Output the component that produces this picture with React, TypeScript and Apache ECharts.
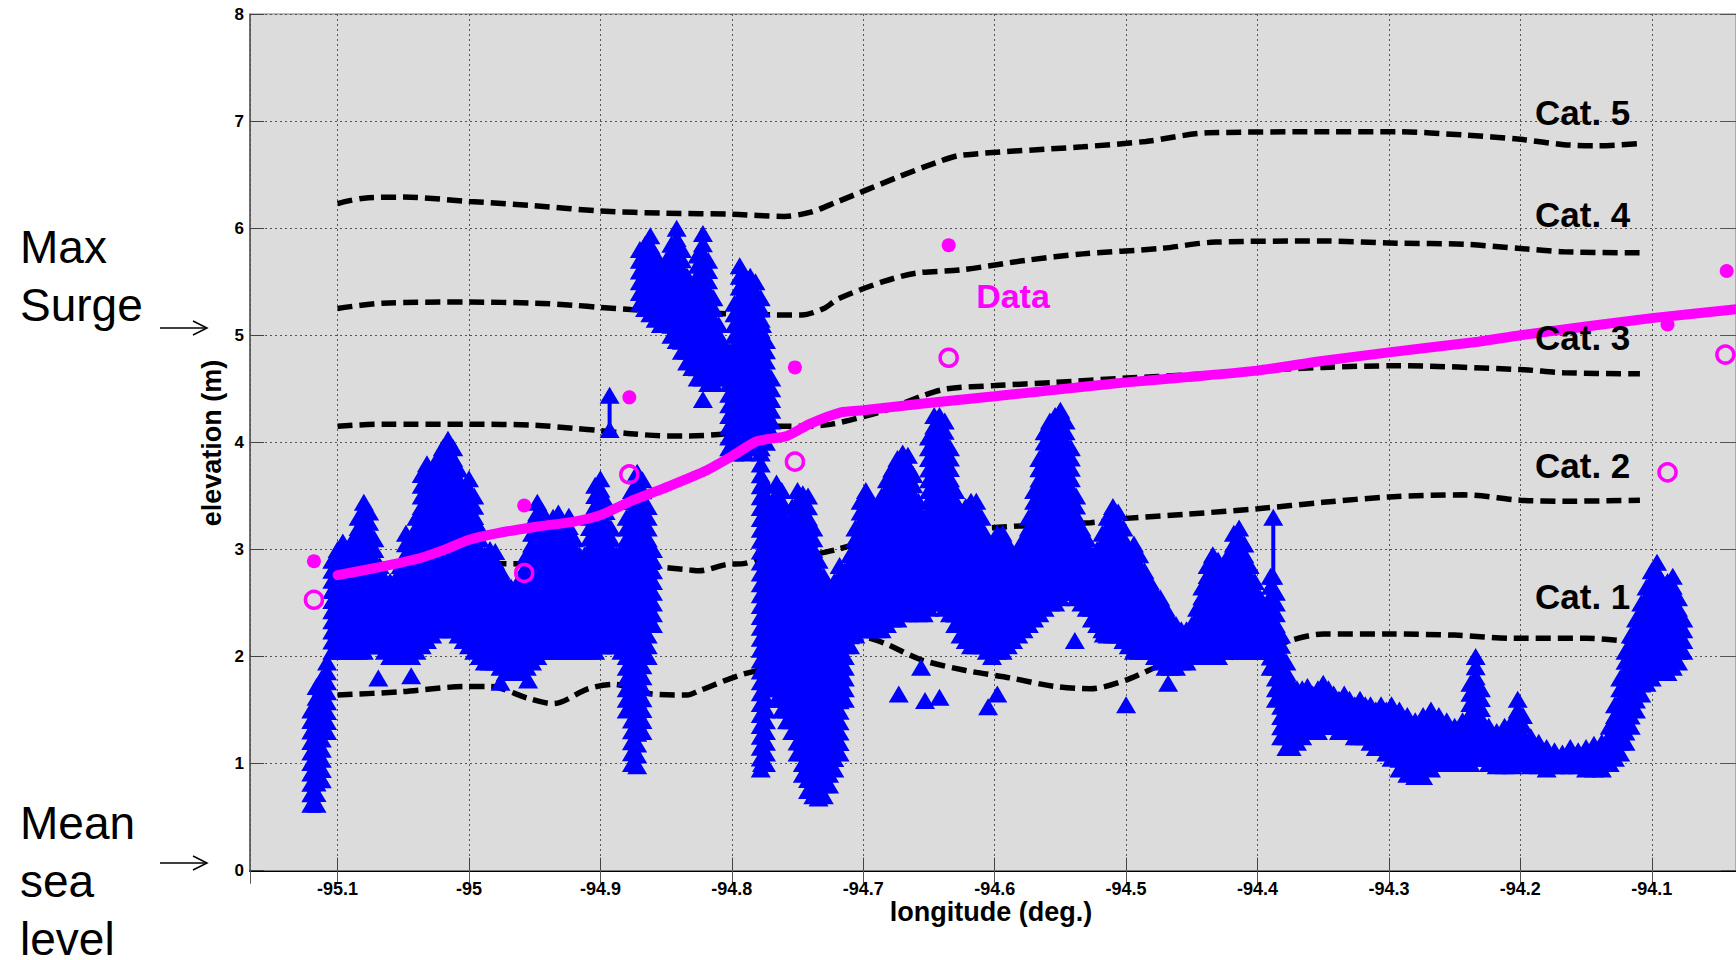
import React, { useEffect, useRef } from "react";
import * as echarts from "echarts";

// ---------------- data ----------------
const cat5: [number, number][] = [
  [-95.1, 6.23], [-95.08, 6.28], [-95.05, 6.29], [-95.0, 6.25], [-94.95, 6.21], [-94.9, 6.16],
  [-94.85, 6.14], [-94.8, 6.13], [-94.76, 6.11], [-94.74, 6.15], [-94.721, 6.24], [-94.673, 6.48],
  [-94.645, 6.61], [-94.626, 6.68], [-94.533, 6.76], [-94.485, 6.81], [-94.438, 6.89], [-94.345, 6.9],
  [-94.294, 6.9], [-94.243, 6.87], [-94.2, 6.83], [-94.167, 6.78], [-94.141, 6.77], [-94.109, 6.79],
];
const cat4: [number, number][] = [
  [-95.1, 5.25], [-95.066, 5.3], [-95.0, 5.31], [-94.95, 5.3], [-94.92, 5.28], [-94.9, 5.26],
  [-94.877, 5.24], [-94.862, 5.23], [-94.764, 5.19], [-94.747, 5.19], [-94.73, 5.25], [-94.719, 5.34],
  [-94.685, 5.5], [-94.66, 5.58], [-94.626, 5.61], [-94.576, 5.7], [-94.533, 5.76], [-94.474, 5.81],
  [-94.432, 5.87], [-94.348, 5.88], [-94.294, 5.86], [-94.243, 5.85], [-94.2, 5.81], [-94.167, 5.78],
  [-94.109, 5.77],
];
const cat3: [number, number][] = [
  [-95.1, 4.15], [-95.066, 4.17], [-95.0, 4.17], [-94.95, 4.16], [-94.92, 4.13], [-94.9, 4.11],
  [-94.877, 4.08], [-94.848, 4.06], [-94.833, 4.06], [-94.804, 4.08], [-94.764, 4.15], [-94.747, 4.15],
  [-94.724, 4.17], [-94.683, 4.3], [-94.656, 4.43], [-94.636, 4.5], [-94.6, 4.53], [-94.554, 4.56],
  [-94.5, 4.6], [-94.453, 4.63], [-94.4, 4.67], [-94.35, 4.7], [-94.294, 4.715], [-94.2, 4.68],
  [-94.167, 4.65], [-94.109, 4.64],
];
const cat2: [number, number][] = [
  [-95.1, 2.85], [-95.0, 2.87], [-94.9, 2.85], [-94.862, 2.84], [-94.833, 2.81], [-94.825, 2.8],
  [-94.804, 2.86], [-94.79, 2.87], [-94.774, 2.93], [-94.74, 2.95], [-94.72, 3.0], [-94.656, 3.2],
  [-94.608, 3.2], [-94.58, 3.22], [-94.527, 3.25], [-94.5, 3.29], [-94.453, 3.33], [-94.4, 3.38],
  [-94.35, 3.44], [-94.3, 3.49], [-94.243, 3.51], [-94.2, 3.46], [-94.167, 3.45], [-94.109, 3.46],
];
const cat1: [number, number][] = [
  [-95.1, 1.64], [-95.053, 1.67], [-95.002, 1.72], [-94.984, 1.72], [-94.955, 1.61], [-94.936, 1.56],
  [-94.909, 1.7], [-94.89, 1.74], [-94.861, 1.65], [-94.834, 1.64], [-94.825, 1.68], [-94.79, 1.84],
  [-94.74, 1.97], [-94.714, 2.09], [-94.7, 2.18], [-94.683, 2.12], [-94.656, 1.97], [-94.622, 1.87],
  [-94.588, 1.8], [-94.554, 1.72], [-94.527, 1.7], [-94.5, 1.78], [-94.47, 1.93], [-94.436, 1.97],
  [-94.4, 2.03], [-94.375, 2.15], [-94.35, 2.21], [-94.3, 2.21], [-94.25, 2.2], [-94.205, 2.17],
  [-94.15, 2.17], [-94.11, 2.13],
];

const surgeModel: [number, number][] = [
  [-95.1, 2.76], [-95.066, 2.84], [-95.037, 2.92], [-95.018, 3.0], [-95.0, 3.09], [-94.979, 3.15],
  [-94.95, 3.21], [-94.92, 3.26], [-94.9, 3.32], [-94.877, 3.45], [-94.848, 3.59], [-94.819, 3.74],
  [-94.8, 3.87], [-94.781, 4.01], [-94.758, 4.06], [-94.741, 4.17], [-94.717, 4.28], [-94.7, 4.3],
  [-94.656, 4.36], [-94.6, 4.43], [-94.554, 4.49], [-94.5, 4.56], [-94.453, 4.61], [-94.4, 4.67],
  [-94.351, 4.76], [-94.3, 4.84], [-94.232, 4.94], [-94.2, 5.0], [-94.1, 5.16], [-94.03, 5.25],
];

const dataFilled: [number, number][] = [
  [-95.118, 2.89], [-94.958, 3.41], [-94.878, 4.42], [-94.752, 4.7], [-94.635, 5.84], [-94.088, 5.1], [-94.043, 5.6],
];
const dataOpen: [number, number][] = [
  [-95.118, 2.53], [-94.958, 2.78], [-94.878, 3.7], [-94.752, 3.82], [-94.635, 4.79], [-94.088, 3.72], [-94.044, 4.82],
];

// ground elevation columns: [longitude, lowest triangle, highest triangle]
const groundCols: [number, number, number][] = [
  [-95.12, 0.62, 1.5], [-95.116, 0.62, 1.72], [-95.112, 0.85, 1.8], [-95.108, 1.3, 1.95],
  [-95.104, 2.05, 2.9], [-95.1, 2.05, 3.0], [-95.096, 2.05, 3.07], [-95.092, 2.05, 2.95],
  [-95.088, 2.05, 3.1], [-95.084, 2.05, 3.3], [-95.08, 2.05, 3.44], [-95.076, 2.1, 3.35],
  [-95.072, 2.1, 3.1], [-95.068, 2.1, 2.85], [-95.064, 2.05, 2.72], [-95.06, 2.0, 2.7],
  [-95.056, 2.0, 2.72], [-95.052, 2.0, 2.85], [-95.048, 2.0, 3.15], [-95.044, 2.0, 2.95],
  [-95.04, 2.05, 3.3], [-95.036, 2.1, 3.7], [-95.032, 2.15, 3.8], [-95.028, 2.2, 3.7],
  [-95.024, 2.25, 3.85], [-95.02, 2.25, 3.95], [-95.016, 2.25, 4.03], [-95.012, 2.25, 3.95],
  [-95.008, 2.2, 3.75], [-95.004, 2.15, 3.55], [-95.0, 2.1, 3.66], [-94.996, 2.05, 3.5],
  [-94.992, 2.0, 3.2], [-94.988, 1.95, 2.95], [-94.984, 1.95, 3.0], [-94.98, 1.95, 2.98],
  [-94.976, 1.9, 2.8], [-94.972, 1.85, 2.7], [-94.968, 1.85, 2.65], [-94.964, 1.85, 2.65],
  [-94.96, 1.85, 2.75], [-94.956, 1.9, 2.95], [-94.952, 1.95, 3.25], [-94.948, 2.0, 3.44],
  [-94.944, 2.05, 3.35], [-94.94, 2.05, 3.2], [-94.936, 2.05, 3.3], [-94.932, 2.05, 3.34],
  [-94.928, 2.05, 3.25], [-94.924, 2.05, 3.31], [-94.92, 2.05, 3.1], [-94.916, 2.05, 2.95],
  [-94.912, 2.05, 2.95], [-94.908, 2.05, 3.3], [-94.904, 2.05, 3.6], [-94.9, 2.1, 3.66],
  [-94.896, 2.1, 3.45], [-94.892, 2.1, 3.2], [-94.888, 2.1, 2.95], [-94.884, 2.05, 3.0],
  [-94.88, 1.5, 3.3], [-94.876, 1.0, 3.55], [-94.872, 0.98, 3.72], [-94.868, 1.3, 3.65],
  [-94.864, 2.0, 3.4], [-94.86, 2.3, 3.0],
  // high cluster
  [-94.87, 5.3, 5.8], [-94.866, 5.25, 5.85], [-94.862, 5.2, 5.93], [-94.858, 5.15, 5.75],
  [-94.854, 5.1, 5.5], [-94.85, 5.1, 5.7], [-94.846, 5.0, 5.85], [-94.842, 4.95, 6.0],
  [-94.838, 4.85, 5.8], [-94.834, 4.75, 5.55], [-94.83, 4.7, 5.45], [-94.826, 4.6, 5.75],
  [-94.822, 4.6, 5.95], [-94.818, 4.55, 5.7], [-94.814, 4.55, 5.35], [-94.81, 4.6, 5.1],
  [-94.806, 4.6, 4.9], [-94.802, 3.95, 4.85], [-94.798, 3.9, 5.3], [-94.794, 3.95, 5.65],
  [-94.79, 3.9, 5.55], [-94.786, 3.95, 5.55], [-94.782, 3.95, 5.5], [-94.778, 3.95, 5.35],
  [-94.774, 4.0, 4.95], [-94.77, 4.1, 4.6],
  // middle
  [-94.778, 0.95, 3.9], [-94.774, 1.0, 3.6],
  [-94.77, 1.7, 3.4], [-94.766, 1.6, 3.62], [-94.762, 1.5, 3.55], [-94.758, 1.4, 3.2],
  [-94.754, 1.3, 3.4], [-94.75, 1.1, 3.55], [-94.746, 0.9, 3.52], [-94.742, 0.75, 3.5],
  [-94.738, 0.7, 3.2], [-94.734, 0.68, 2.9], [-94.73, 0.7, 2.75], [-94.726, 0.8, 2.6],
  [-94.722, 0.95, 2.7], [-94.718, 1.1, 2.85], [-94.714, 1.6, 2.8], [-94.71, 2.1, 2.95],
  [-94.706, 2.2, 3.2], [-94.702, 2.25, 3.45], [-94.698, 2.25, 3.55], [-94.694, 2.25, 3.45],
  [-94.69, 2.25, 3.3], [-94.686, 2.25, 3.5], [-94.682, 2.3, 3.65], [-94.678, 2.35, 3.75],
  [-94.674, 2.35, 3.85], [-94.67, 2.4, 3.9], [-94.666, 2.4, 3.88], [-94.662, 2.45, 3.7],
  [-94.658, 2.4, 3.45], [-94.654, 2.4, 3.3], [-94.65, 2.45, 4.05], [-94.646, 2.5, 4.25],
  [-94.642, 2.5, 4.25], [-94.638, 2.45, 4.2], [-94.634, 2.4, 3.95], [-94.63, 2.3, 3.55],
  [-94.626, 2.2, 3.3], [-94.622, 2.15, 3.4], [-94.618, 2.1, 3.45], [-94.614, 2.1, 3.45],
  [-94.61, 2.1, 3.3], [-94.606, 2.05, 3.1], [-94.602, 2.0, 3.0], [-94.598, 2.05, 3.15],
  [-94.594, 2.05, 3.15], [-94.59, 2.1, 3.05], [-94.586, 2.15, 2.95], [-94.582, 2.2, 3.0],
  [-94.578, 2.25, 3.1], [-94.574, 2.3, 3.3], [-94.57, 2.35, 3.55], [-94.566, 2.4, 3.85],
  [-94.562, 2.45, 4.1], [-94.558, 2.5, 4.2], [-94.554, 2.5, 4.25], [-94.55, 2.55, 4.3],
  [-94.546, 2.6, 4.2], [-94.542, 2.6, 3.95], [-94.538, 2.55, 3.5], [-94.534, 2.5, 3.2],
  [-94.53, 2.45, 3.1], [-94.526, 2.35, 2.95], [-94.522, 2.3, 3.0], [-94.518, 2.25, 3.15],
  [-94.514, 2.2, 3.3], [-94.51, 2.2, 3.4], [-94.506, 2.2, 3.35], [-94.502, 2.15, 3.2],
  [-94.498, 2.1, 3.0], [-94.494, 2.05, 3.05], [-94.49, 2.05, 2.95], [-94.486, 2.05, 2.8],
  [-94.482, 2.05, 2.7], [-94.478, 2.0, 2.6], [-94.474, 1.95, 2.55], [-94.47, 1.9, 2.45],
  [-94.466, 1.9, 2.35], [-94.462, 1.9, 2.3], [-94.458, 1.95, 2.25], [-94.454, 1.95, 2.25],
  [-94.45, 2.0, 2.3], [-94.446, 2.0, 2.45], [-94.442, 2.0, 2.65], [-94.438, 2.0, 2.85],
  [-94.434, 2.0, 2.95], [-94.43, 2.0, 2.9], [-94.426, 2.05, 2.8], [-94.422, 2.05, 2.95],
  [-94.418, 2.05, 3.15], [-94.414, 2.05, 3.2], [-94.41, 2.05, 3.05], [-94.406, 2.05, 2.85],
  [-94.402, 2.05, 2.7], [-94.398, 2.05, 2.55], [-94.394, 2.05, 2.45], [-94.39, 1.9, 2.75],
  [-94.386, 1.6, 2.6], [-94.382, 1.25, 2.2], [-94.378, 1.15, 1.95], [-94.374, 1.15, 1.75],
  [-94.37, 1.2, 1.7], [-94.366, 1.25, 1.7], [-94.362, 1.3, 1.72], [-94.358, 1.3, 1.65],
  [-94.354, 1.3, 1.7], [-94.35, 1.35, 1.75], [-94.346, 1.35, 1.7], [-94.342, 1.35, 1.65],
  [-94.338, 1.3, 1.6], [-94.334, 1.3, 1.65], [-94.33, 1.3, 1.6], [-94.326, 1.25, 1.55],
  [-94.322, 1.25, 1.6], [-94.318, 1.25, 1.55], [-94.314, 1.2, 1.55], [-94.31, 1.15, 1.5],
  [-94.306, 1.15, 1.55], [-94.302, 1.1, 1.5],
  // right
  [-94.298, 1.05, 1.55], [-94.292, 0.95, 1.5], [-94.286, 0.9, 1.45], [-94.28, 0.88, 1.4],
  [-94.274, 0.88, 1.45], [-94.268, 0.95, 1.5], [-94.262, 1.0, 1.45], [-94.256, 1.0, 1.4],
  [-94.25, 1.0, 1.35], [-94.244, 1.0, 1.4], [-94.238, 1.0, 1.75], [-94.234, 1.05, 2.0],
  [-94.23, 1.05, 1.7], [-94.224, 1.0, 1.35], [-94.218, 0.98, 1.3], [-94.212, 0.98, 1.35],
  [-94.206, 0.98, 1.4], [-94.202, 1.0, 1.6], [-94.198, 1.0, 1.45], [-94.192, 0.98, 1.25],
  [-94.186, 0.98, 1.2], [-94.18, 0.95, 1.15], [-94.174, 0.98, 1.12], [-94.168, 0.98, 1.1],
  [-94.162, 0.98, 1.15], [-94.156, 0.98, 1.12], [-94.15, 0.95, 1.15], [-94.144, 0.95, 1.18],
  [-94.138, 0.95, 1.2], [-94.132, 1.0, 1.35], [-94.128, 1.05, 1.55], [-94.124, 1.1, 1.8],
  [-94.12, 1.2, 2.05], [-94.116, 1.35, 2.2], [-94.112, 1.5, 2.35], [-94.108, 1.65, 2.5],
  [-94.104, 1.75, 2.65], [-94.1, 1.8, 2.8], [-94.096, 1.85, 2.88], [-94.092, 1.85, 2.7],
  [-94.088, 1.85, 2.7], [-94.084, 1.9, 2.75], [-94.08, 1.95, 2.55], [-94.076, 2.05, 2.35],
];

// isolated ground points
const groundSingles: [number, number][] = [
  [-95.069, 1.8], [-95.044, 1.82], [-94.976, 1.76], [-94.955, 1.78], [-94.822, 4.4], [-94.686, 2.32],
  [-94.656, 1.9], [-94.673, 1.65], [-94.653, 1.59], [-94.642, 1.62], [-94.605, 1.53], [-94.598, 1.65],
  [-94.539, 2.15], [-94.517, 2.21], [-94.5, 1.55], [-94.468, 1.75],
];

// vertical jumps of the ground track: [longitude, lower point, upper point]
const groundJumps: [number, number, number][] = [
  [-94.893, 4.12, 4.44], [-94.388, 2.75, 3.3], [-94.777, 1.0, 5.1],
];

const catNames = ["Cat. 5", "Cat. 4", "Cat. 3", "Cat. 2", "Cat. 1"];

// ---------------- styling ----------------
const FONT = '"Liberation Sans", Arial, Helvetica, sans-serif';
const BLUE = "#0000ff";
const MAGENTA = "#ff00ff";
const TW = 20;
const TH = 17;
const STEP = 11;

function towerPoints(cx: number, yTop: number, yBot: number): number[][] {
  const span = Math.max(0, yBot - yTop);
  const n = span < 1 ? 0 : Math.ceil(span / STEP);
  const s = n ? span / n : 0;
  const hw = TW / 2;
  const hh = TH / 2;
  const inner = (hw * (TH - s)) / TH;
  const right: number[][] = [[cx, yTop - hh]];
  for (let k = 0; k <= n; k++) {
    const c = yTop + k * s;
    right.push([cx + hw, c + hh]);
    if (k < n) right.push([cx + inner, c + hh]);
  }
  const left = right.slice(1).reverse().map((p) => [2 * cx - p[0], p[1]]);
  return right.concat(left);
}

const X_MIN = -95.16664;
const X_MAX = -94.0359;

function dashed(name: string, data: [number, number][]) {
  return {
    type: "line",
    name,
    data,
    symbol: "none",
    smooth: 0.3,
    z: 2,
    silent: true,
    lineStyle: { color: "#000", width: 5.5, type: [15, 7] },
  };
}

function buildOption(): any {
  const txt = (text: string, x: number, y: number, size: number, extra: any = {}) => ({
    type: "text",
    x,
    y,
    z: 100,
    style: {
      text,
      fontSize: size,
      fontFamily: FONT,
      fill: "#000",
      align: "left",
      verticalAlign: "middle",
      ...extra,
    },
  });
  const arrow = (y: number) => ({
    type: "group",
    z: 100,
    children: [
      { type: "line", shape: { x1: 160, y1: y, x2: 207, y2: y }, style: { stroke: "#000", lineWidth: 1.5 } },
      { type: "polyline", shape: { points: [[193, y - 7], [207, y], [193, y + 7]] }, style: { stroke: "#000", lineWidth: 1.5, fill: "none" } },
    ],
  });
  const catY = [112, 214, 337, 465, 596];

  const axisLabelCommon = { fontFamily: FONT, fontWeight: "bold", color: "#000" };

  return {
    animation: false,
    backgroundColor: "#ffffff",
    grid: {
      left: 250,
      top: 14,
      right: -2,
      bottom: 89.3,
      show: true,
      backgroundColor: "#dcdcdc",
      borderColor: "#7a7a7a",
      borderWidth: 1,
    },
    xAxis: [
      {
        type: "value",
        min: X_MIN,
        max: X_MAX,
        splitNumber: 11,
        position: "bottom",
        axisLine: { lineStyle: { color: "#000", width: 2 } },
        axisTick: { inside: true, length: 13, lineStyle: { color: "#444", width: 1 } },
        axisLabel: { ...axisLabelCommon, fontSize: 18, margin: 9, showMinLabel: false, showMaxLabel: false },
        splitLine: { show: true, lineStyle: { color: "#555", width: 1, type: [2, 3] } },
      },
      {
        type: "value",
        min: X_MIN,
        max: X_MAX,
        splitNumber: 11,
        position: "top",
        axisLine: { show: true, lineStyle: { color: "#7a7a7a", width: 1 } },
        axisTick: { show: true, inside: true, length: 13, lineStyle: { color: "#555", width: 1 } },
        axisLabel: { show: false },
        splitLine: { show: false },
      },
    ],
    yAxis: [
      {
        type: "value",
        min: 0,
        max: 8,
        interval: 1,
        axisLine: { show: true, lineStyle: { color: "#555", width: 1.5 } },
        axisTick: { show: true, inside: true, length: 14, lineStyle: { color: "#444", width: 1 } },
        axisLabel: { ...axisLabelCommon, fontSize: 17, margin: 6 },
        splitLine: { show: true, lineStyle: { color: "#555", width: 1, type: [2, 3] } },
      },
      {
        type: "value",
        min: 0,
        max: 8,
        interval: 1,
        position: "right",
        axisLine: { show: true, lineStyle: { color: "#7a7a7a", width: 1 } },
        axisTick: { show: true, inside: true, length: 15, lineStyle: { color: "#555", width: 1 } },
        axisLabel: { show: false },
        splitLine: { show: false },
      },
    ],
    series: [
      dashed(catNames[0], cat5),
      dashed(catNames[1], cat4),
      dashed(catNames[2], cat3),
      dashed(catNames[3], cat2),
      dashed(catNames[4], cat1),
      {
        type: "custom",
        name: "ground jumps",
        data: groundJumps,
        encode: { x: 0, y: [1, 2] },
        z: 3,
        silent: true,
        renderItem: (_p: any, api: any) => {
          const lon = api.value(0);
          const top = api.coord([lon, api.value(2)]);
          const bot = api.coord([lon, api.value(1)]);
          return {
            type: "group",
            children: [
              { type: "line", shape: { x1: top[0], y1: top[1], x2: bot[0], y2: bot[1] }, style: { stroke: BLUE, lineWidth: 4 } },
              { type: "polygon", shape: { points: towerPoints(top[0], top[1], top[1]) }, style: { fill: BLUE } },
              { type: "polygon", shape: { points: towerPoints(bot[0], bot[1], bot[1]) }, style: { fill: BLUE } },
            ],
          };
        },
      },
      {
        type: "custom",
        name: "ground",
        data: groundCols,
        encode: { x: 0, y: [1, 2] },
        z: 3,
        silent: true,
        renderItem: (_p: any, api: any) => {
          const lon = api.value(0);
          const top = api.coord([lon, api.value(2)]);
          const bot = api.coord([lon, api.value(1)]);
          return {
            type: "polygon",
            shape: { points: towerPoints(top[0], top[1], bot[1]) },
            style: { fill: BLUE },
          };
        },
      },
      {
        type: "scatter",
        name: "ground points",
        data: groundSingles,
        symbol: "triangle",
        symbolSize: [TW, TH],
        itemStyle: { color: BLUE, opacity: 1 },
        z: 3,
        silent: true,
      },
      {
        type: "scatter",
        name: "data filled",
        data: dataFilled,
        symbol: "circle",
        symbolSize: 14,
        itemStyle: { color: MAGENTA, opacity: 1 },
        z: 5,
        silent: true,
      },
      {
        type: "scatter",
        name: "data open",
        data: dataOpen,
        symbol: "circle",
        symbolSize: 17,
        itemStyle: { color: "rgba(0,0,0,0)", borderColor: MAGENTA, borderWidth: 3.5, opacity: 1 },
        z: 5,
        silent: true,
      },
      {
        type: "line",
        name: "max surge",
        data: surgeModel,
        symbol: "none",
        smooth: 0.2,
        z: 6,
        silent: true,
        lineStyle: { color: MAGENTA, width: 10, cap: "round" },
      },
    ],
    graphic: {
      elements: [
        txt("Max", 20, 247, 46),
        txt("Surge", 20, 305, 46),
        txt("Mean", 20, 823, 46),
        txt("sea", 20, 881, 46),
        txt("level", 20, 939, 46),
        arrow(328),
        arrow(863),
        {
          type: "text",
          x: 212,
          y: 443,
          rotation: Math.PI / 2,
          z: 100,
          style: {
            text: "elevation (m)",
            fontSize: 27,
            fontWeight: "bold",
            fontFamily: FONT,
            fill: "#000",
            align: "center",
            verticalAlign: "middle",
          },
        },
        txt("longitude (deg.)", 991, 912, 27, { fontWeight: "bold", align: "center" }),
        txt("Data", 1013, 296, 34, { fontWeight: "bold", align: "center", fill: MAGENTA }),
        ...catNames.map((c, i) => txt(c, 1535, catY[i], 35, { fontWeight: "bold" })),
      ],
    },
  };
}

export default function App() {
  const ref = useRef<HTMLDivElement>(null);
  useEffect(() => {
    document.body.style.margin = "0";
    const chart = echarts.init(ref.current as HTMLDivElement, null, { renderer: "svg" });
    chart.setOption(buildOption());
    return () => chart.dispose();
  }, []);
  return (
    <div
      ref={ref}
      style={{ width: 1736, height: 960, position: "absolute", left: 0, top: 0, overflow: "hidden", background: "#fff" }}
    />
  );
}
